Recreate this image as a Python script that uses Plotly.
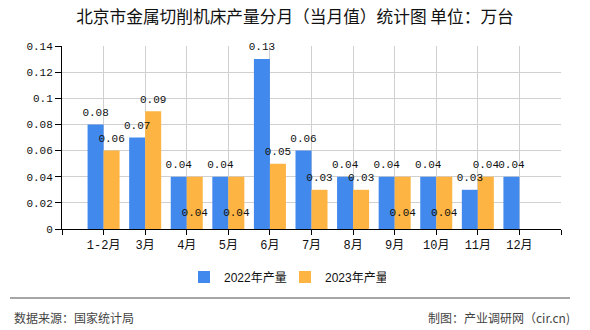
import plotly.graph_objects as go

months = ["1-2月", "3月", "4月", "5月", "6月", "7月", "8月", "9月", "10月", "11月", "12月"]
v2022 = [0.08, 0.07, 0.04, 0.04, 0.13, 0.06, 0.04, 0.04, 0.04, 0.03, 0.04]
v2023 = [0.06, 0.09, 0.04, 0.04, 0.05, 0.03, 0.03, 0.04, 0.04, 0.04, None]
name2022 = "2022年产量"
name2023 = "2023年产量"
title = "北京市金属切削机床产量分月（当月值）统计图 单位：万台"
source_left = "数据来源：国家统计局"
source_right = "制图：产业调研网（cir.cn)"
y_ticks = [0, 0.02, 0.04, 0.06, 0.08, 0.1, 0.12, 0.14]

BLUE = "#4289EE"
ORANGE = "#FDB443"
MONO = "Liberation Mono, Noto Sans CJK SC, monospace"
CJK = "Noto Sans CJK SC, sans-serif"
BARGAP = 0.23

xi = list(range(len(months)))
half = (1 - BARGAP) / 4  # centre offset of each bar inside its group


def fmt(v):
    return "" if v is None else f"{v:g}"


fig = go.Figure()
fig.add_trace(go.Bar(x=xi, y=v2022, name=name2022, marker_color=BLUE, marker_line_width=0))
fig.add_trace(go.Bar(x=xi, y=v2023, name=name2023, marker_color=ORANGE, marker_line_width=0))

# value labels (drawn above bars so they are never hidden)
lab_font = dict(family=MONO, size=11, color="#111")
pad_marker = dict(size=8, opacity=0)
fig.add_trace(go.Scatter(
    x=[i - half for i in xi], y=v2022, text=[fmt(v) for v in v2022],
    mode="markers+text", marker=pad_marker, textposition="top center", textfont=lab_font,
    showlegend=False, hoverinfo="skip", cliponaxis=False))
# 2023 labels: when equal to 2022 the label is moved down inside the bar
ov = [(b is not None and a == b) for a, b in zip(v2022, v2023)]
fig.add_trace(go.Scatter(
    x=[i + half for i, o in zip(xi, ov) if not o],
    y=[b for b, o in zip(v2023, ov) if not o],
    text=[fmt(b) for b, o in zip(v2023, ov) if not o],
    mode="markers+text", marker=pad_marker, textposition="top center", textfont=lab_font,
    showlegend=False, hoverinfo="skip", cliponaxis=False))
fig.add_trace(go.Scatter(
    x=[i + half for i, o in zip(xi, ov) if o],
    y=[b * 0.3 for b, o in zip(v2023, ov) if o],
    text=[fmt(b) for b, o in zip(v2023, ov) if o],
    mode="text", textposition="middle center", textfont=lab_font,
    showlegend=False, hoverinfo="skip", cliponaxis=False))

tickvals = list(range(-1, len(months) + 1))
ticktext = [""] + months + [""]

fig.update_layout(
    width=590, height=330,
    margin=dict(l=62, r=29, t=46, b=101, autoexpand=False),
    paper_bgcolor="white", plot_bgcolor="white",
    barmode="group", bargap=BARGAP, bargroupgap=0,
    showlegend=True,
    legend=dict(orientation="h", xref="paper", yref="paper",
                x=(184 - 62) / 499, xanchor="left",
                y=(229 - 277) / 183, yanchor="middle",
                font=dict(family="Liberation Sans, Noto Sans CJK SC, sans-serif", size=12, color="#111"),
                itemwidth=30, tracegroupgap=0, entrywidth=56),
    title=dict(text=title, x=0.5, xref="container", xanchor="center",
               y=1 - 17 / 330, yref="container", yanchor="middle",
               font=dict(family=CJK, size=16.7, color="#111")),
    xaxis=dict(range=[-1, len(months)], tickmode="array", tickvals=tickvals, ticktext=ticktext,
               showgrid=True, gridcolor="#d0d0d0", gridwidth=1,
               showline=True, linecolor="#000", linewidth=1,
               ticks="outside", ticklen=5, tickcolor="#000", tickangle=0,
               tickfont=dict(family=MONO, size=12, color="#111"), zeroline=False),
    yaxis=dict(range=[0, 0.14], tickmode="array", tickvals=y_ticks,
               ticktext=[f"{v:g}" for v in y_ticks],
               showgrid=True, gridcolor="#d0d0d0", gridwidth=1,
               showline=True, linecolor="#000", linewidth=1,
               ticks="outside", ticklen=6, tickcolor="#000",
               tickfont=dict(family=MONO, size=11, color="#111"), zeroline=False),
    shapes=[dict(type="line", xref="paper", yref="paper",
                 x0=(10 - 62) / 499, x1=(570 - 62) / 499,
                 y0=(229 - 298) / 183, y1=(229 - 298) / 183,
                 line=dict(color="#888", width=1.5))],
    annotations=[
        dict(text=source_left, xref="paper", yref="paper", x=(12 - 62) / 499, y=(229 - 317) / 183,
             xanchor="left", yanchor="middle", showarrow=False,
             font=dict(family=CJK, size=12, color="#444")),
        dict(text=source_right, xref="paper", yref="paper", x=(572 - 62) / 499, y=(229 - 317) / 183,
             xanchor="right", yanchor="middle", showarrow=False,
             font=dict(family=CJK, size=12, color="#444")),
    ],
)

fig.write_html("out.html")
